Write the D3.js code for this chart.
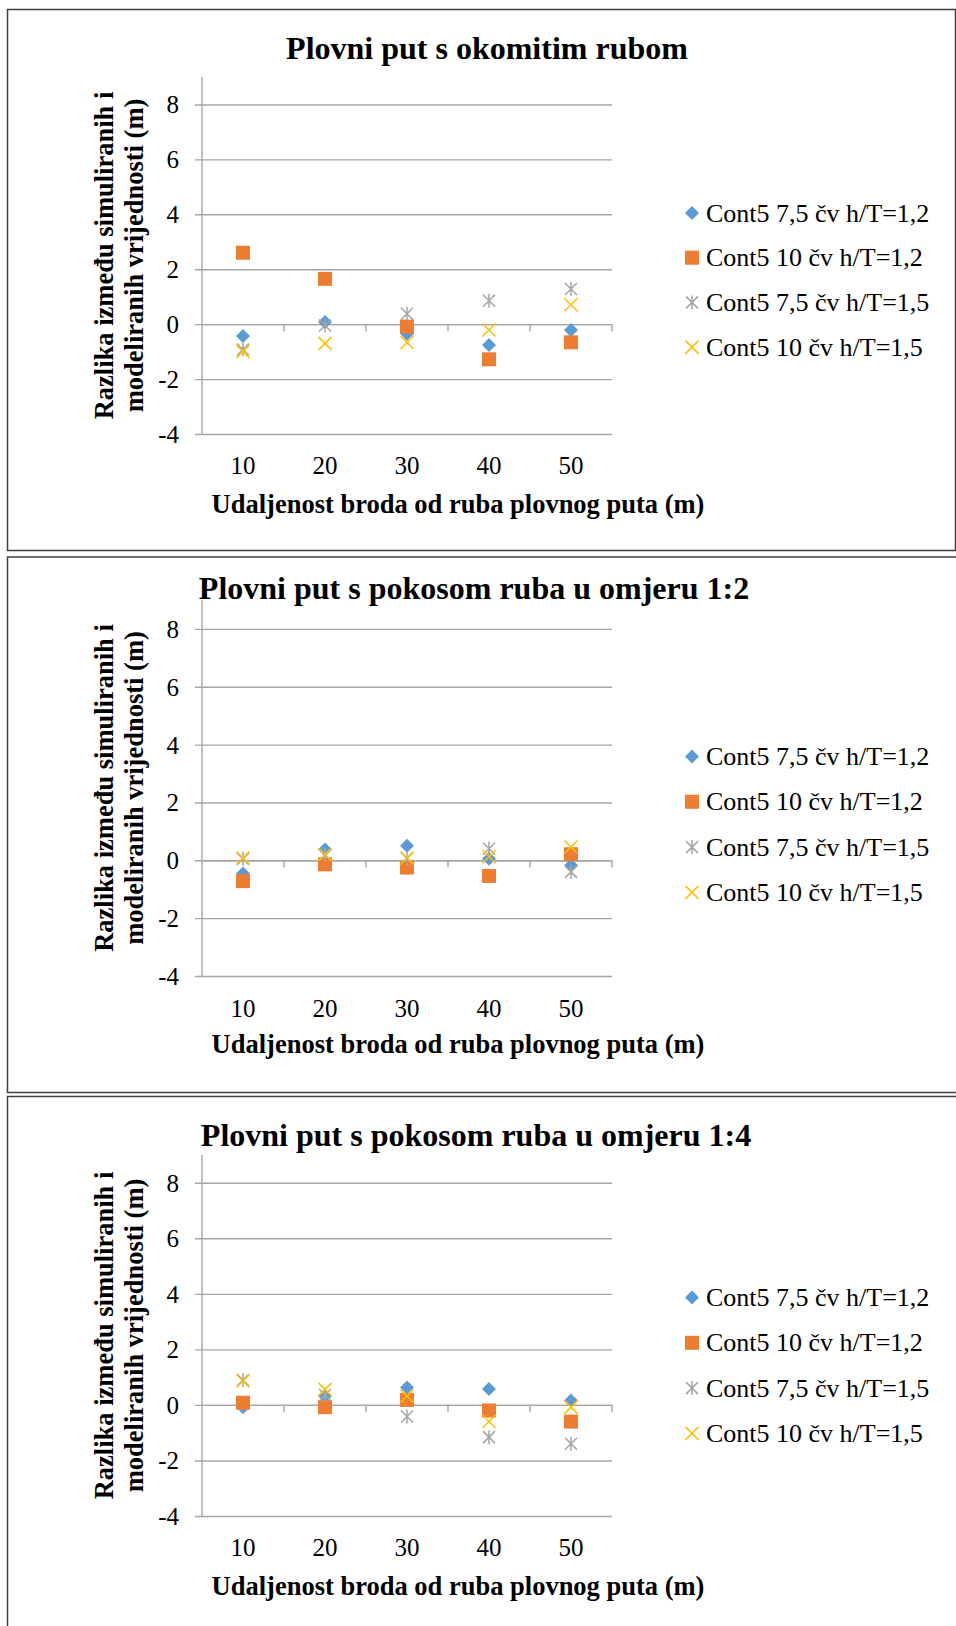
<!DOCTYPE html>
<html>
<head>
<meta charset="utf-8">
<script src="https://cdn.jsdelivr.net/npm/d3@7"></script>
<style>
  html, body { margin: 0; padding: 0; background: #fff; }
  svg { display: block; }
  text { font-family: "Liberation Serif", "Times New Roman", serif; fill: #000; }
</style>
</head>
<body>
<script>
// ---------- DATA ----------
const categories = [10, 20, 30, 40, 50];
const yTickValues = [-4, -2, 0, 2, 4, 6, 8];
const yTickLabels = ["-4", "-2", "0", "2", "4", "6", "8"];
const yDomain = [-4, 9];
const seriesNames = [
  "Cont5 7,5 čv h/T=1,2",
  "Cont5 10 čv h/T=1,2",
  "Cont5 7,5 čv h/T=1,5",
  "Cont5 10 čv h/T=1,5"
];
const chartTitles = [
  "Plovni put s okomitim rubom",
  "Plovni put s pokosom ruba u omjeru 1:2",
  "Plovni put s pokosom ruba u omjeru 1:4"
];
const xAxisTitle = "Udaljenost broda od ruba plovnog puta (m)";
const yAxisTitleLines = ["Razlika između simuliranih i", "modeliranih vrijednosti (m)"];

// Chart 1: okomiti rub
const okomiti_75_12 = [-0.43, 0.08, -0.35, -0.76, -0.21];
const okomiti_10_12 = [2.6, 1.65, -0.09, -1.28, -0.66];
const okomiti_75_15 = [-0.92, -0.05, 0.38, 0.85, 1.28];
const okomiti_10_15 = [-1.0, -0.7, -0.67, -0.21, 0.71];
// Chart 2: pokos 1:2
const pokos2_75_12 = [-0.46, 0.37, 0.5, 0.05, -0.17];
const pokos2_10_12 = [-0.72, -0.14, -0.25, -0.54, 0.21];
const pokos2_75_15 = [0.05, 0.2, 0.06, 0.4, -0.4];
const pokos2_10_15 = [0.08, 0.2, 0.08, 0.12, 0.46];
// Chart 3: pokos 1:4
const pokos4_75_12 = [-0.08, 0.32, 0.63, 0.57, 0.16];
const pokos4_10_12 = [0.08, -0.08, 0.18, -0.2, -0.6];
const pokos4_75_15 = [0.9, 0.36, -0.42, -1.16, -1.4];
const pokos4_10_15 = [0.86, 0.56, 0.32, -0.6, -0.08];

const chartSeries = [
  [okomiti_75_12, okomiti_10_12, okomiti_75_15, okomiti_10_15],
  [pokos2_75_12, pokos2_10_12, pokos2_75_15, pokos2_10_15],
  [pokos4_75_12, pokos4_10_12, pokos4_75_15, pokos4_10_15]
];

// ---------- STYLE / LAYOUT ----------
const colors = ["#5B9BD5", "#ED7D31", "#A5A5A5", "#FFC000"];
const W = 956, H = 1626;
const layouts = [
  { frameTop: 9.5, frameBottom: 550.5, rightBorder: true,
    plotTop: 77, plotBottom: 434, titleX: 487, titleY: 59,
    xLabelY: 474, xTitleY: 513, legendY: 221.5, legendStep: 44.7, yTitleY: 255.5 },
  { frameTop: 557, frameBottom: 1092.5, rightBorder: false,
    plotTop: 600, plotBottom: 976, titleX: 474, titleY: 599,
    xLabelY: 1017, xTitleY: 1053, legendY: 765, legendStep: 45.3, yTitleY: 788 },
  { frameTop: 1096.5, frameBottom: 1700, rightBorder: false,
    plotTop: 1155, plotBottom: 1516, titleX: 476, titleY: 1146,
    xLabelY: 1556, xTitleY: 1595, legendY: 1306, legendStep: 45.3, yTitleY: 1335.5 }
];
const plotLeft = 202, plotRight = 612, gridLeft = 195;

const svg = d3.select("body").append("svg").attr("width", W).attr("height", H);

function markerPath(i) {
  if (i === 0) return "M0,-7L7,0L0,7L-7,0Z";
  if (i === 1) return "M-7,-7H7V7H-7Z";
  if (i === 2) return "M0,-7V7M-6,-6L6,6M-6,6L6,-6";
  return "M-6.5,-6.5L6.5,6.5M-6.5,6.5L6.5,-6.5";
}
function styleMarker(sel, i) {
  if (i < 2) sel.attr("fill", colors[i]).attr("stroke", "none");
  else sel.attr("fill", "none").attr("stroke", colors[i]).attr("stroke-width", 1.5);
}

layouts.forEach((L, ci) => {
  const g = svg.append("g");

  // frame
  const fr = g.append("path")
    .attr("fill", "none").attr("stroke", "#404040").attr("stroke-width", 1.5);
  if (L.rightBorder) {
    fr.attr("d", `M960,${L.frameTop}H7.5V${L.frameBottom}H955.5V${L.frameTop}`);
  } else {
    fr.attr("d", `M960,${L.frameTop}H7.5V${L.frameBottom}H960`);
  }

  const x = d3.scaleBand().domain(categories).range([plotLeft, plotRight]);
  const y = d3.scaleLinear().domain(yDomain).range([L.plotBottom, L.plotTop]);

  // horizontal gridlines + y tick labels via axis
  const yAxis = d3.axisLeft(y).tickValues(yTickValues)
    .tickSizeInner(-(plotRight - gridLeft)).tickSizeOuter(0).tickPadding(16)
    .tickFormat((d, i) => yTickLabels[i]);
  const ya = g.append("g").attr("transform", `translate(${gridLeft},0)`).call(yAxis);
  ya.select(".domain").remove();
  ya.selectAll(".tick line").attr("stroke", "#A6A6A6").attr("stroke-width", 1.4);
  ya.selectAll(".tick text")
    .attr("font-size", 25).attr("font-family", "Liberation Serif").attr("fill", "#000")
    .attr("dy", "0.34em");

  // vertical axis line
  g.append("line")
    .attr("x1", plotLeft).attr("x2", plotLeft)
    .attr("y1", y(yDomain[1])).attr("y2", y(yDomain[0]))
    .attr("stroke", "#A6A6A6").attr("stroke-width", 1.4);

  // horizontal axis at 0 with category tick marks
  const xAxis = d3.axisBottom(x).tickSize(0).tickPadding(0);
  const xa = g.append("g").attr("transform", `translate(0,${y(0)})`).call(xAxis);
  xa.select(".domain").attr("stroke", "#A6A6A6").attr("stroke-width", 1.4);
  xa.selectAll(".tick text")
    .attr("font-size", 25).attr("font-family", "Liberation Serif").attr("fill", "#000")
    .attr("dy", 0).attr("y", L.xLabelY - y(0));
  const boundaries = categories.map(c => x(c)).concat([x(categories[categories.length - 1]) + x.bandwidth()]);
  g.append("g").selectAll("line").data(boundaries.slice(1)).join("line")
    .attr("x1", d => d).attr("x2", d => d)
    .attr("y1", y(0)).attr("y2", y(0) + 7)
    .attr("stroke", "#A6A6A6").attr("stroke-width", 1.4);

  // series markers
  chartSeries[ci].forEach((vals, si) => {
    const m = g.append("g").selectAll("path").data(vals).join("path")
      .attr("d", markerPath(si))
      .attr("transform", (d, k) => `translate(${x(categories[k]) + x.bandwidth() / 2},${y(d)})`);
    styleMarker(m, si);
  });

  // title
  g.append("text").attr("x", L.titleX).attr("y", L.titleY)
    .attr("text-anchor", "middle").attr("font-size", 32).attr("font-weight", "bold")
    .text(chartTitles[ci]);

  // x axis title
  g.append("text").attr("x", 458).attr("y", L.xTitleY)
    .attr("text-anchor", "middle").attr("font-size", 26.5).attr("font-weight", "bold")
    .text(xAxisTitle);

  // y axis title
  yAxisTitleLines.forEach((t, li) => {
    const bx = li === 0 ? 113 : 143;
    g.append("text")
      .attr("transform", `translate(${bx},${L.yTitleY}) rotate(-90)`)
      .attr("text-anchor", "middle").attr("font-size", 26.5).attr("font-weight", "bold")
      .text(t);
  });

  // legend
  seriesNames.forEach((name, si) => {
    const ly = L.legendY + si * L.legendStep;
    const mk = g.append("path").attr("d", markerPath(si))
      .attr("transform", `translate(692,${ly - 8.5})`);
    styleMarker(mk, si);
    g.append("text").attr("x", 706).attr("y", ly)
      .attr("font-size", 26).text(name);
  });
});
</script>
</body>
</html>
